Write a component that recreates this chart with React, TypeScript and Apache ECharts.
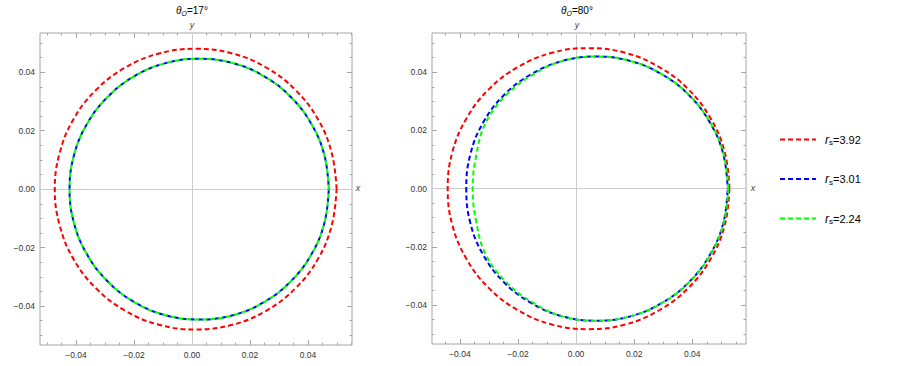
import React, { useEffect, useRef } from "react";
import * as echarts from "echarts";

// ---- data ----
const SERIES_NAMES = ["3.92", "3.01", "2.24"];
const SERIES_COLORS = ["#ff0000", "#0000ff", "#00ff00"];
const PANEL_TITLES = ["17°", "80°"];

const MAJOR_TICKS = [-0.04, -0.02, 0, 0.02, 0.04];
const X_MINOR_LEFT = [-0.05, -0.045, -0.035, -0.03, -0.025, -0.015, -0.01, -0.005, 0.005, 0.01, 0.015, 0.025, 0.03, 0.035, 0.045, 0.05, 0.055];
const X_MINOR_RIGHT = [-0.045, -0.035, -0.03, -0.025, -0.015, -0.01, -0.005, 0.005, 0.01, 0.015, 0.025, 0.03, 0.035, 0.045, 0.05, 0.055];
const Y_MINOR = [-0.05, -0.045, -0.035, -0.03, -0.025, -0.015, -0.01, -0.005, 0.005, 0.01, 0.015, 0.025, 0.03, 0.035, 0.045, 0.05];

// theta_O = 17 deg
const L_RED: number[][] = [
  [0.0499, 0], [0.0482, 0.0124], [0.0434, 0.024], [0.0357, 0.0339], [0.0256, 0.0416], [0.0139, 0.0464],
  [0.0013, 0.048], [-0.0113, 0.0464], [-0.023, 0.0416], [-0.0331, 0.0339], [-0.0408, 0.024], [-0.0456, 0.0124],
  [-0.0473, 0], [-0.0456, -0.0124], [-0.0408, -0.024], [-0.0331, -0.0339], [-0.023, -0.0416], [-0.0113, -0.0464],
  [0.0013, -0.048], [0.0139, -0.0464], [0.0256, -0.0416], [0.0357, -0.0339], [0.0434, -0.024], [0.0482, -0.0124],
  [0.0499, 0],
];
const L_BLUE: number[][] = [
  [0.0472, 0], [0.0457, 0.0115], [0.0412, 0.0223], [0.0341, 0.0315], [0.0249, 0.0386], [0.0141, 0.0431],
  [0.0025, 0.0446], [-0.0091, 0.0431], [-0.0199, 0.0386], [-0.0291, 0.0315], [-0.0362, 0.0223], [-0.0407, 0.0115],
  [-0.0422, 0], [-0.0407, -0.0115], [-0.0362, -0.0223], [-0.0291, -0.0315], [-0.0199, -0.0386], [-0.0091, -0.0431],
  [0.0025, -0.0446], [0.0141, -0.0431], [0.0249, -0.0386], [0.0341, -0.0315], [0.0412, -0.0223], [0.0457, -0.0115],
  [0.0472, 0],
];
const L_GREEN: number[][] = [
  [0.0472, 0], [0.0457, 0.0115], [0.0412, 0.0223], [0.0341, 0.0315], [0.0249, 0.0386], [0.0141, 0.0431],
  [0.0025, 0.0446], [-0.0091, 0.0431], [-0.0199, 0.0386], [-0.0291, 0.0315], [-0.0362, 0.0223], [-0.0407, 0.0115],
  [-0.0422, 0], [-0.0407, -0.0115], [-0.0362, -0.0223], [-0.0291, -0.0315], [-0.0199, -0.0386], [-0.0091, -0.0431],
  [0.0025, -0.0446], [0.0141, -0.0431], [0.0249, -0.0386], [0.0341, -0.0315], [0.0412, -0.0223], [0.0457, -0.0115],
  [0.0472, 0],
];

// theta_O = 80 deg
const R_RED: number[][] = [
  [0.0528, 0], [0.0512, 0.0125], [0.0463, 0.0242], [0.0386, 0.0342], [0.0286, 0.0418], [0.0169, 0.0467],
  [0.0043, 0.0483], [-0.0083, 0.0467], [-0.02, 0.0418], [-0.03, 0.0342], [-0.0377, 0.0242], [-0.0426, 0.0125],
  [-0.0442, 0], [-0.0426, -0.0125], [-0.0377, -0.0242], [-0.03, -0.0342], [-0.02, -0.0418], [-0.0083, -0.0467],
  [0.0043, -0.0483], [0.0169, -0.0467], [0.0286, -0.0418], [0.0386, -0.0342], [0.0463, -0.0242], [0.0512, -0.0125],
  [0.0528, 0],
];
const R_BLUE: number[][] = [
  [0.0522, 0], [0.0507, 0.0118], [0.0461, 0.0227], [0.0389, 0.0321], [0.0295, 0.0393], [0.0186, 0.0439],
  [0.0068, 0.0454], [-0.0047, 0.0439], [-0.0155, 0.0393], [-0.0249, 0.0321], [-0.032, 0.0227], [-0.0364, 0.0118],
  [-0.0378, 0], [-0.0364, -0.0118], [-0.032, -0.0227], [-0.0249, -0.0321], [-0.0155, -0.0393], [-0.0047, -0.0439],
  [0.0068, -0.0454], [0.0186, -0.0439], [0.0295, -0.0393], [0.0389, -0.0321], [0.0461, -0.0227], [0.0507, -0.0118],
  [0.0522, 0],
];
const R_GREEN: number[][] = [
  [0.0524, 0], [0.0508, 0.0118], [0.0462, 0.0227], [0.039, 0.0321], [0.0296, 0.0393], [0.0187, 0.0439],
  [0.0069, 0.0454], [-0.0046, 0.0439], [-0.0147, 0.0393], [-0.0241, 0.0321], [-0.0311, 0.0227], [-0.0343, 0.0118],
  [-0.0356, 0], [-0.0343, -0.0118], [-0.0311, -0.0227], [-0.0241, -0.0321], [-0.0147, -0.0393], [-0.0046, -0.0439],
  [0.0069, -0.0454], [0.0187, -0.0439], [0.0296, -0.0393], [0.039, -0.0321], [0.0462, -0.0227], [0.0508, -0.0118],
  [0.0524, 0],
];

const PANEL_DATA = [
  [L_RED, L_BLUE, L_GREEN],
  [R_RED, R_BLUE, R_GREEN],
];
const PANEL_X_RANGE = [[-0.0524, 0.0552], [-0.0496, 0.0585]];
const PANEL_Y_RANGE = [[-0.0533, 0.0534], [-0.0534, 0.0535]];
const PANEL_X_MINOR = [X_MINOR_LEFT, X_MINOR_RIGHT];

const FRAME = "#a6a6a6";
const FONT = "'Liberation Sans', Arial, sans-serif";

function fmt(v: number) {
  const s = Number(v).toFixed(2);
  return s.replace("-", "\u2212");
}

function axesFor(dim: "x" | "y", gridIndex: number, min: number, max: number, minor: number[]) {
  const posMain = dim === "x" ? "bottom" : "left";
  const posOpp = dim === "x" ? "top" : "right";
  const base = {
    type: "value",
    gridIndex,
    min,
    max,
    splitLine: { show: false },
    axisLine: { show: false, onZero: false },
  };
  return [
    {
      ...base,
      position: posMain,
      axisTick: { show: true, inside: true, length: 5, customValues: MAJOR_TICKS, lineStyle: { color: FRAME } },
      axisLabel: {
        show: true,
        customValues: MAJOR_TICKS,
        formatter: fmt,
        fontSize: 8.5,
        color: "#333",
        fontFamily: FONT,
        margin: 5,
      },
    },
    {
      ...base,
      position: posMain,
      axisTick: { show: true, inside: true, length: 2.5, customValues: minor, lineStyle: { color: FRAME } },
      axisLabel: { show: false },
    },
    {
      ...base,
      position: posOpp,
      axisTick: { show: true, inside: true, length: 5, customValues: MAJOR_TICKS, lineStyle: { color: FRAME } },
      axisLabel: { show: false },
    },
    {
      ...base,
      position: posOpp,
      axisTick: { show: true, inside: true, length: 2.5, customValues: minor, lineStyle: { color: FRAME } },
      axisLabel: { show: false },
    },
  ];
}

export default function App() {
  const ref = useRef<HTMLDivElement>(null);
  useEffect(() => {
    document.body.style.margin = "0";
    if (!ref.current) return;
    const chart = echarts.init(ref.current, undefined, { renderer: "svg" });

    const grids = [
      { left: 40, top: 33, width: 312, height: 312 },
      { left: 432, top: 33, width: 314, height: 311 },
    ].map((g) => ({ ...g, show: true, borderColor: FRAME, borderWidth: 1, backgroundColor: "transparent" }));

    const xAxes: any[] = [];
    const yAxes: any[] = [];
    [0, 1].forEach((p) => {
      xAxes.push(...axesFor("x", p, PANEL_X_RANGE[p][0], PANEL_X_RANGE[p][1], PANEL_X_MINOR[p]));
      yAxes.push(...axesFor("y", p, PANEL_Y_RANGE[p][0], PANEL_Y_RANGE[p][1], Y_MINOR));
    });

    const series: any[] = [];
    [0, 1].forEach((p) => {
      PANEL_DATA[p].forEach((pts, i) => {
        series.push({
          type: "line",
          name: SERIES_NAMES[i],
          xAxisIndex: p * 4,
          yAxisIndex: p * 4,
          data: pts,
          smooth: 0.4,
          symbol: "none",
          showSymbol: false,
          color: SERIES_COLORS[i],
          lineStyle: { color: SERIES_COLORS[i], width: 2, type: [5, 3], dashOffset: i === 1 ? 4 : 0 },
          z: 3 + i,
          markLine:
            i === 0
              ? {
                  silent: true,
                  symbol: "none",
                  label: { show: false },
                  lineStyle: { color: "#cccccc", width: 1, type: "solid" },
                  z: 1,
                  data: [{ xAxis: 0 }, { yAxis: 0 }],
                }
              : undefined,
        });
      });
    });

    const titleRich = {
      a: { fontStyle: "italic", fontSize: 10, fontFamily: FONT, fill: "#000" },
      b: { fontStyle: "italic", fontSize: 7, fontFamily: FONT, padding: [6, 0, 0, 0], fill: "#000" },
      c: { fontSize: 10, fontFamily: FONT, fill: "#000" },
    };

    const graphic: any[] = [];
    const titleX = [192, 577];
    const xLabX = [358, 753];
    [0, 1].forEach((p) => {
      graphic.push({
        type: "text",
        x: titleX[p],
        y: 10,
        style: {
          text: `{a|θ}{b|O}{c|=${PANEL_TITLES[p]}}`,
          rich: titleRich,
          align: "center",
          verticalAlign: "middle",
        },
      });
      graphic.push({
        type: "text",
        x: titleX[p],
        y: 25,
        style: { text: "y", fontStyle: "italic", fontSize: 9, fontFamily: FONT, fill: "#444", align: "center", verticalAlign: "middle" },
      });
      graphic.push({
        type: "text",
        x: xLabX[p],
        y: 188,
        style: { text: "x", fontStyle: "italic", fontSize: 9, fontFamily: FONT, fill: "#444", align: "center", verticalAlign: "middle" },
      });
    });

    chart.setOption({
      animation: false,
      backgroundColor: "#ffffff",
      grid: grids,
      xAxis: xAxes,
      yAxis: yAxes,
      series,
      graphic,
      legend: {
        orient: "vertical",
        left: 774,
        top: 128.5,
        padding: 5,
        itemWidth: 36,
        itemHeight: 10,
        itemGap: 26.5,
        itemStyle: { opacity: 0 },
        lineStyle: { dashOffset: 0 },
        data: SERIES_NAMES,
        formatter: (name: string) => `{i|r}{s|s}{n|=${name}}`,
        textStyle: {
          fontFamily: FONT,
          fontSize: 11,
          color: "#000",
          rich: {
            i: { fontStyle: "italic", fontSize: 12, fontFamily: FONT, padding: [0, 0, 0, 4] },
            s: { fontSize: 8, fontFamily: FONT, padding: [6, 0, 0, 0] },
            n: { fontSize: 11, fontFamily: FONT },
          },
        },
      },
    });
    return () => chart.dispose();
  }, []);
  return <div ref={ref} style={{ width: 900, height: 366 }} />;
}
